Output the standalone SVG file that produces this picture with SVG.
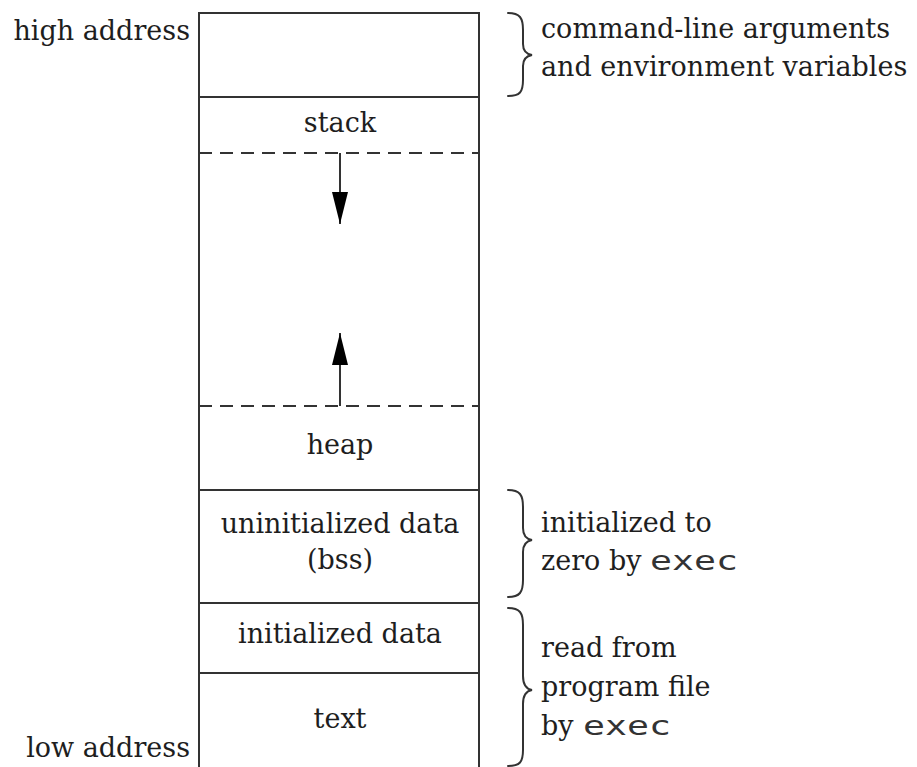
<svg xmlns="http://www.w3.org/2000/svg" width="917" height="767" viewBox="0 0 917 767">
<defs>
<style>
.t{font-family:"DejaVu Serif","Liberation Serif",serif;font-size:27px;fill:#1e1e1e}
.c{text-anchor:middle}
.r{text-anchor:end}
.m{font-family:"DejaVu Sans Mono","Liberation Mono",monospace;font-size:26px;fill:#333}
.ln{stroke:#333;stroke-width:2;fill:none}
.ds{stroke:#333;stroke-width:2;fill:none;stroke-dasharray:13 8}
.br{stroke:#333;stroke-width:2;fill:none;stroke-linecap:round}
</style>
<marker id="ah" markerWidth="32" markerHeight="16" refX="32" refY="8" orient="auto" markerUnits="userSpaceOnUse" viewBox="0 0 32 16">
<path d="M0,0 L32,8 L0,16 Z" fill="#000"/>
</marker>
</defs>
<rect width="917" height="767" fill="#fff"/>

<g id="memory-box">
<path class="ln" d="M199,767 V13 H479 V767"/>
</g>
<g id="args-env">
<line class="ln" x1="199" y1="97" x2="479" y2="97"/>
</g>
<g id="stack">
<text class="t c" x="340" y="132">stack</text>
<line class="ds" x1="199" y1="153" x2="479" y2="153"/>
</g>
<g id="heap">
<line class="ds" x1="199" y1="406" x2="479" y2="406"/>
<text class="t c" x="340" y="454">heap</text>
</g>
<g id="bss">
<line class="ln" x1="199" y1="490" x2="479" y2="490"/>
<text class="t c" x="340" y="533">uninitialized data</text>
<text class="t c" x="340" y="569">(bss)</text>
</g>
<g id="init-data">
<line class="ln" x1="199" y1="603" x2="479" y2="603"/>
<text class="t c" x="340" y="643">initialized data</text>
</g>
<g id="text-seg">
<line class="ln" x1="199" y1="673" x2="479" y2="673"/>
<text class="t c" x="340" y="728">text</text>
</g>

<g id="labels">
<text class="t r" x="190" y="40">high address</text>
<text class="t r" x="190" y="757">low address</text>
</g>

<g id="connectors">
<line class="ln" x1="340" y1="153" x2="340" y2="224" marker-end="url(#ah)"/>
<line class="ln" x1="340" y1="406" x2="340" y2="333" marker-end="url(#ah)"/>
</g>

<g id="brace-args">
<path class="br" d="M508,13 C520,13 523,18 523,30 V44 C523,50 526,54 532,55 C526,56 523,60 523,66 V80 C523,92 520,96 508,96"/>
<text class="t" x="541" y="38">command-line arguments</text>
<text class="t" x="541" y="76">and environment variables</text>
</g>
<g id="brace-bss">
<path class="br" d="M508,490 C520,490 523,495 523,507 V528 C523,535 526,539 532,540 C526,541 523,545 523,552 V580 C523,592 520,597 508,597"/>
<text class="t" x="541" y="532">initialized to</text>
<text class="t" x="541" y="570">zero by</text>
<text class="m" x="650" y="570" textLength="88" lengthAdjust="spacingAndGlyphs">exec</text>
</g>
<g id="brace-prog">
<path class="br" d="M508,608 C520,608 523,613 523,625 V676 C523,684 526,689 532,690 C526,691 523,696 523,704 V750 C523,762 520,766 508,766"/>
<text class="t" x="541" y="657">read from</text>
<text class="t" x="541" y="696">program file</text>
<text class="t" x="541" y="735">by</text>
<text class="m" x="583" y="735" textLength="88" lengthAdjust="spacingAndGlyphs">exec</text>
</g>
</svg>
